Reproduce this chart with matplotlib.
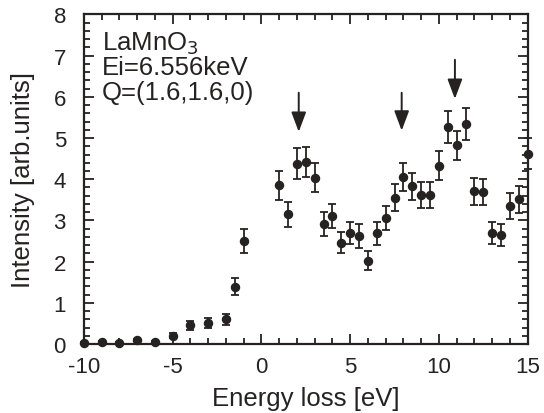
import matplotlib
matplotlib.use("Agg")
import matplotlib.pyplot as plt
from matplotlib.ticker import MultipleLocator

plt.rcParams['font.family'] = ['Liberation Sans', 'DejaVu Sans']
plt.rcParams['axes.unicode_minus'] = False

# Data (energy loss in eV, intensity in arb. units, error)
energy = [-10, -9, -8, -7, -6, -5, -4, -3, -2, -1.5, -1,
          1.0, 1.5, 2.0, 2.5, 3.0, 3.5, 4.0, 4.5, 5.0, 5.5, 6.0, 6.5, 7.0, 7.5,
          8.0, 8.5, 9.0, 9.5, 10.0, 10.5, 11.0, 11.5, 12.0, 12.5, 13.0, 13.5,
          14.0, 14.5, 15.0]
intensity = [0.02, 0.06, 0.03, 0.10, 0.06, 0.20, 0.46, 0.50, 0.60, 1.39, 2.50,
             3.85, 3.15, 4.38, 4.42, 4.04, 2.91, 3.11, 2.46, 2.69, 2.62, 2.02, 2.69, 3.06, 3.55,
             4.05, 3.83, 3.61, 3.62, 4.33, 5.27, 4.82, 5.34, 3.71, 3.69, 2.69, 2.64,
             3.35, 3.51, 4.62]
error = [0.02, 0.02, 0.02, 0.03, 0.02, 0.06, 0.11, 0.12, 0.13, 0.21, 0.28,
         0.35, 0.30, 0.37, 0.37, 0.36, 0.29, 0.30, 0.26, 0.27, 0.29, 0.23, 0.28, 0.29, 0.33,
         0.34, 0.33, 0.32, 0.32, 0.35, 0.39, 0.36, 0.38, 0.33, 0.32, 0.27, 0.27,
         0.31, 0.32, 0.37]

arrow_x = [2.1, 7.9, 10.9]
arrow_top = [6.1, 6.1, 6.9]
arrow_tip = [5.15, 5.18, 5.95]

x_ticks = [-10, -5, 0, 5, 10, 15]
y_ticks = [0, 1, 2, 3, 4, 5, 6, 7, 8]

annotation_lines = ["LaMnO$_3$", "Ei=6.556keV", "Q=(1.6,1.6,0)"]

ink = '#262222'

fig = plt.figure(figsize=(5.44, 4.14), dpi=100)
ax = fig.add_axes([0.1544, 0.1667, 0.8156, 0.7959])

ax.errorbar(energy, intensity, yerr=error, fmt='o', color=ink, ms=5.8,
            ecolor=ink, elinewidth=1.3, capsize=3, capthick=1.3, clip_on=False,
            zorder=3)

for xa, yt, yh in zip(arrow_x, arrow_top, arrow_tip):
    ax.annotate('', xy=(xa, yh), xytext=(xa, yt),
                arrowprops=dict(arrowstyle='-|>,head_length=1.2,head_width=0.45',
                                lw=1.4, color=ink, shrinkA=0, shrinkB=0,
                                mutation_scale=10))

ax.set_xlim(-10, 15)
ax.set_ylim(0, 8)
ax.set_xticks(x_ticks)
ax.set_yticks(y_ticks)
ax.xaxis.set_minor_locator(MultipleLocator(1))
ax.yaxis.set_minor_locator(MultipleLocator(0.2))
ax.tick_params(which='both', direction='in', top=True, right=True,
               color=ink, width=1.3, labelcolor=ink, labelsize=16)
ax.tick_params(which='major', length=7)
ax.tick_params(which='minor', length=4)
ax.tick_params(axis='y', which='major', pad=13)
ax.tick_params(axis='x', which='major', pad=9)
for s in ax.spines.values():
    s.set_linewidth(1.6)
    s.set_color(ink)

ax.set_xlabel('Energy loss [eV]', fontsize=18.5, color=ink, labelpad=6)
ax.set_ylabel('Intensity [arb.units]', fontsize=18.5, color=ink, labelpad=13)

for i, line in enumerate(annotation_lines):
    ax.text(0.04, 0.895 - i * 0.075, line, transform=ax.transAxes,
            fontsize=18.5, color=ink, ha='left', va='baseline')

fig.savefig('out.png', dpi=100, facecolor='white')
